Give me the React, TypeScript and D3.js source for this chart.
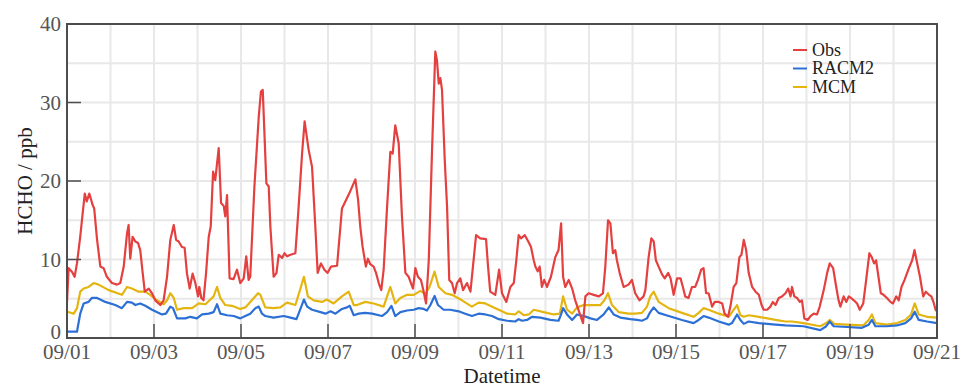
import React from "react";
import * as d3 from "d3";

// Hourly HCHO series, [hours since 09/01 00:00, ppb]
const obsSeries: [number, number][] = [
  [0,4.5],[0.9,8.9],[2.8,8.4],[4.2,7.8],[5.5,9.5],[7.3,12.9],[9.8,18.4],[10.9,17.4],[12.3,18.4],[14.2,16.9],[15,16.5],[16.6,12.5],[18.4,9.1],[20.2,8.9],[22,7.8],[24.8,7.0],[27.6,6.8],[29.4,7.0],[31.3,9.1],[33.1,13.3],[34,14.4],[34.9,10.1],[36.2,12.9],[37.7,12.3],[39.2,12.1],[40.4,11.2],[41.8,8.2],[42.9,5.9],[45.1,6.3],[46.9,5.7],[48.7,4.8],[51.5,4.2],[53.3,4.8],[55.2,7.8],[57,12.5],[58.9,14.4],[60.2,12.5],[61.6,12.3],[63.4,11.6],[64.9,11.5],[66.2,8.2],[67.7,6.3],[69.3,8.2],[70.8,7.0],[72.3,5.3],[73,6.5],[74.1,5.1],[75.3,4.8],[76.7,8.2],[78.2,12.9],[79.3,14.2],[80.6,21.2],[81.8,20.1],[83.7,24.2],[85,17.2],[86.5,16.8],[87.3,15.5],[88.3,18.2],[89.7,7.6],[91.9,7.5],[93.8,8.7],[95.6,7.0],[97.5,7.6],[98.9,10.4],[100.2,7.4],[101.1,7.8],[103.4,19.3],[105.8,28.2],[107,31.4],[108,31.6],[110,19.7],[111.3,19.3],[112.2,14.2],[114,7.8],[115.6,8.3],[116.8,10.6],[118.7,10.2],[120,10.8],[121.4,10.4],[123.3,10.6],[126,10.8],[127.8,16.7],[129.7,23.5],[131.1,27.6],[133.3,24],[135.2,21.8],[137,14.2],[138.3,8.3],[140.1,9.5],[142,8.7],[143.8,8.3],[145.7,9.1],[149,9.2],[151.7,16.5],[155.5,18.3],[159.1,20.2],[160.6,17.6],[161.8,14.2],[163.1,11.6],[164.9,9.1],[166,10.1],[167.3,9.4],[169.2,9.1],[170.5,8.3],[172,7.0],[173.4,6.1],[174.7,8.7],[176.6,16.7],[178.4,23.7],[179.7,23.5],[181.1,27.1],[183,24.8],[184.8,15.5],[186.7,8.3],[188.5,7.8],[190.9,6.3],[192.2,8.9],[193.6,7.8],[195.3,7.4],[196.8,5.9],[198.1,4.4],[199.6,9.9],[201.4,23.9],[203.2,36.5],[204.1,35.4],[205.1,32.4],[206,33.1],[206.9,31.6],[208.4,22.7],[209.7,16.7],[210.9,7.4],[212.4,7.0],[213.9,5.7],[215.2,7.0],[217,7.6],[218.5,6.1],[220.7,7.0],[222.6,5.9],[223.8,8.7],[225.7,13.1],[228,12.7],[231.2,12.6],[232.3,9.1],[233.5,5.9],[236.3,5.5],[238.4,8.7],[240,5.7],[242.4,4.6],[244.6,6.5],[246.5,7.0],[247.9,9.9],[249.2,13.1],[250.5,12.7],[252.6,13.1],[254.5,12.3],[256,11.6],[257.5,9.9],[258.4,9.1],[259.7,8.5],[260.8,9.1],[262,6.5],[263.3,7.4],[264.8,6.5],[267,7.8],[269.4,10.3],[271.2,11.2],[272.6,14.6],[273.7,7.8],[274.9,6.5],[276.8,7.4],[278.7,6.3],[280.4,4.8],[282.9,3.1],[284.7,1.9],[286,5.3],[287.8,5.7],[290.6,5.5],[293.4,5.3],[295.7,5.7],[297,9.1],[298.5,15.0],[299.8,14.6],[301.2,10.8],[302.5,11.2],[303.4,9.9],[304.9,8.3],[307.1,6.5],[309.8,6.8],[311.7,7.4],[313.5,5.7],[315.9,4.8],[318.1,5.3],[319.1,6.1],[320.9,10.3],[322.4,12.7],[323.7,12.3],[324.9,9.9],[326.4,9.1],[328.3,8.1],[329.8,7.6],[331.7,8.3],[333,7.6],[334.7,5.5],[336.6,7.6],[338.5,7.6],[339.8,6.5],[341.1,5.3],[342.9,5.1],[344.8,6.5],[346.6,6.5],[348.1,7.4],[349.9,8.7],[351.2,8.9],[352.6,5.7],[354,5.7],[355.9,4.0],[357.4,4.6],[359.6,4.6],[361.5,4.4],[362.8,3.1],[364.7,2.7],[366,4.0],[367.8,6.5],[369.3,7.0],[371,10.3],[372.1,10.6],[373.4,12.5],[374.7,11.2],[376.1,8.3],[378,6.5],[379.9,5.9],[381.7,5.5],[383.2,4.2],[384.4,3.6],[386.3,3.6],[388.1,4.0],[389.4,4.6],[390.9,4.2],[392.7,5.1],[394.5,5.3],[396.4,5.7],[397.9,6.3],[399.2,5.3],[400,6.5],[401.3,5.3],[402.8,5.1],[404.3,4.6],[405.5,4.8],[406.8,2.5],[408.7,2.3],[410.2,2.8],[412,3.1],[413.8,3.0],[415.3,4.0],[417.5,6.1],[419.4,8.3],[420.8,9.5],[422.7,8.9],[424.4,6.5],[425.7,4.8],[426.7,4.0],[428.5,5.3],[430,4.6],[431.3,5.3],[432.6,5.1],[434.1,4.8],[435.9,4.4],[437.4,3.6],[439.3,4.4],[440.7,7.0],[442.7,10.8],[444,10.3],[445.3,9.5],[446.4,9.9],[447.7,7.8],[449,5.7],[450.5,5.5],[452.4,5.1],[454.3,4.6],[455.7,4.4],[457.5,5.3],[458.9,4.8],[460.4,6.5],[462.1,7.4],[464.5,8.9],[466.3,9.9],[467.6,11.2],[469.1,9.5],[470.6,7.8],[472.4,5.3],[473.8,5.9],[475.6,5.5],[476.9,5.3],[478.3,4.4],[479.2,3.6],[480,3.4],
];

const racm2Series: [number, number][] = [
  [0,0.8],[5.5,0.8],[7.3,3.1],[9.2,4.4],[11.9,4.6],[13.7,5.1],[16.6,5.1],[21.1,4.6],[26.6,4.2],[30.3,3.8],[33.1,4.6],[35.8,4.5],[37.7,4.2],[40.4,4.4],[43.2,4.1],[46.9,3.6],[52.4,3.0],[54.6,3.1],[57,4.0],[58.5,3.8],[60.7,2.5],[65.3,2.5],[68,2.7],[71.7,2.5],[74.5,3.0],[78.2,3.1],[80.9,3.3],[82.8,4.3],[84.6,3.1],[88.3,2.9],[92,2.8],[95.6,2.5],[98.4,2.8],[101.1,3.1],[103.9,3.8],[105.8,4.0],[107.6,3.1],[109.4,2.8],[114,2.6],[119.6,2.8],[123.3,2.6],[126.6,2.4],[128.8,3.7],[130.7,4.9],[132.5,4.0],[135.2,3.6],[139.9,3.3],[142.6,3.1],[145.4,3.4],[148.1,3.1],[151.7,3.7],[154.5,3.9],[156,4.1],[158.2,2.9],[160.9,3.1],[164.6,3.2],[168.3,3.1],[173.8,2.8],[176.6,3.3],[179,4.1],[181.1,2.8],[183.9,3.3],[187.6,3.5],[191.3,3.6],[194,3.8],[196.8,3.7],[198.6,3.5],[200.5,4.2],[202.8,5.35],[204.7,4.2],[207.8,3.6],[211.4,3.6],[216.1,3.4],[219.7,3.1],[223.4,2.8],[227.1,3.1],[230.8,3.0],[234.5,2.8],[238.2,2.4],[242.8,2.2],[247.3,2.1],[249.2,2.4],[251.1,2.2],[253.8,2.3],[256.6,2.7],[261.2,2.6],[266.7,2.3],[271.2,2.2],[272.6,3.0],[273.7,3.8],[275.9,3.0],[278.7,2.3],[281.4,3.0],[285.1,2.8],[288.8,2.5],[292.4,2.3],[296.1,3.0],[298.9,3.9],[301.6,3.0],[305.3,2.6],[310.8,2.4],[314.5,2.3],[317.2,2.2],[320,2.5],[321.8,3.3],[323.7,3.9],[326.4,3.2],[332,2.8],[339.3,2.3],[345.7,1.9],[348.5,2.3],[351.2,2.8],[354,2.6],[359.6,2.1],[365.1,1.7],[366.9,1.9],[369.7,3.0],[371.5,2.3],[373.4,1.8],[376.1,2.1],[381.7,1.9],[390.9,1.7],[396.4,1.6],[406.4,1.5],[415.6,1.0],[418.9,1.5],[420.8,2.1],[423,1.5],[430.3,1.4],[438.6,1.3],[442.3,1.7],[444.1,2.3],[446,1.5],[452.4,1.5],[457.9,1.6],[462.5,1.9],[465.7,2.5],[467.7,3.35],[469.9,2.3],[474.5,2.1],[480,1.9],
];

const mcmSeries: [number, number][] = [
  [0,3.35],[3.7,3.1],[5.5,3.8],[7.3,5.9],[9.2,6.3],[11.9,6.5],[14.7,7.0],[17.4,6.8],[23,6.1],[30.3,5.5],[33.1,6.5],[35.8,6.3],[39.5,5.9],[43.2,5.9],[45.9,5.5],[49.6,4.8],[53.3,4.3],[55.2,4.8],[57,5.7],[58.9,5.1],[60.7,3.6],[64.4,3.8],[69,3.8],[72.7,4.4],[76.4,4.3],[79.1,4.9],[80.9,5.3],[82.8,6.5],[84.6,5.1],[87.3,4.2],[91,4.1],[95.6,3.7],[98.4,3.9],[102,4.8],[105.4,5.7],[106.7,5.5],[109.4,3.9],[114,3.8],[117.7,3.9],[121.4,4.5],[126,4.2],[128.8,6.3],[130.7,7.8],[132.9,5.3],[136.1,4.8],[140.7,4.6],[143.4,4.9],[147.1,4.4],[151.7,5.3],[155.4,5.9],[158.2,4.2],[160,4.2],[164.6,4.6],[169.2,4.4],[174.7,4.0],[176.6,5.3],[178.4,6.5],[181.1,4.4],[183.9,5.1],[187.6,5.5],[191.3,5.5],[195,6.0],[197.7,5.6],[200,6.5],[202.8,8.45],[205.1,6.5],[208.8,5.7],[212.4,5.5],[217.9,4.8],[223.4,4.0],[227.1,4.5],[230.8,4.4],[235.4,3.9],[240,3.4],[242.8,3.1],[247.3,3.0],[249.2,3.4],[252,2.9],[254.8,3.0],[257.5,3.6],[263,3.3],[268.6,3.0],[271.9,3.1],[273.7,5.3],[275.9,3.6],[278.7,3.1],[281.4,3.9],[285.1,4.2],[289.7,4.2],[294.3,4.2],[296.5,4.8],[298.5,5.7],[300.7,4.2],[304.4,3.3],[309.8,3.1],[313.5,3.1],[317.2,3.2],[320,4.0],[321.8,5.3],[323.7,5.9],[326.4,4.6],[332,3.8],[339.3,3.2],[345.7,2.7],[348.5,3.2],[351.2,3.8],[354,3.6],[359.6,3.1],[365.1,2.7],[366.9,3.3],[369.7,4.2],[371.5,2.9],[373.4,2.7],[376.1,2.9],[381.7,2.7],[390.9,2.3],[396.4,2.1],[400,2.1],[406.4,1.9],[415.6,1.5],[418.9,1.9],[420.8,2.3],[423.3,1.8],[430.3,1.7],[439.3,1.6],[442.3,2.3],[444.1,3.0],[446,1.9],[452.4,1.7],[457.9,1.9],[462.5,2.3],[465.7,3.0],[467.7,4.4],[469.9,3.0],[474.5,2.7],[480,2.6],
];

const seriesNames = ["Obs", "RACM2", "MCM"];
const seriesColors = ["#e4403f", "#2c6fd5", "#e4b511"];
const xTickLabels = ["09/01", "09/03", "09/05", "09/07", "09/09", "09/11", "09/13", "09/15", "09/17", "09/19", "09/21"];
const yTicks = [0, 10, 20, 30, 40];

const W = 963;
const H = 388;
const M = { left: 67, right: 26, top: 24, bottom: 50 };
const FONT = "'Liberation Serif', 'Times New Roman', serif";

export default function App() {
  const x = d3.scaleLinear().domain([0, 480]).range([M.left, W - M.right]);
  const y = d3.scaleLinear().domain([0, 40]).range([H - M.bottom, M.top]);
  const line = d3
    .line<[number, number]>()
    .x((d) => x(d[0]))
    .y((d) => y(d[1]));

  const dayGrid = d3.range(0, 481, 24);
  const yGrid = d3.range(0, 41, 5);
  const x0 = x(0), x1 = x(480), y0 = y(0), y1 = y(40);
  const series = [obsSeries, racm2Series, mcmSeries];
  const drawOrder = [2, 1, 0];

  return (
    <svg width={W} height={H} style={{ position: "absolute", left: 0, top: 0, background: "#fff" }} fontFamily={FONT}>
      <defs>
        <clipPath id="plot-clip">
          <rect x={x0} y={y1} width={x1 - x0} height={y0 - y1} />
        </clipPath>
      </defs>
      <rect x={0} y={0} width={W} height={H} fill="#fff" />
      {/* grid */}
      {dayGrid.map((h) => (
        <line key={"gx" + h} x1={x(h)} x2={x(h)} y1={y1} y2={y0} stroke="#e8e8e8" strokeWidth={2} />
      ))}
      {yGrid.map((v) => (
        <line key={"gy" + v} x1={x0} x2={x1} y1={y(v)} y2={y(v)} stroke="#e8e8e8" strokeWidth={2} />
      ))}
      {/* series */}
      <g clipPath="url(#plot-clip)">
        {drawOrder.map((i) => (
          <path key={seriesNames[i]} d={line(series[i]) || ""} fill="none" stroke={seriesColors[i]} strokeWidth={2.2} strokeLinejoin="round" />
        ))}
      </g>
      {/* frame */}
      <rect x={x0} y={y1} width={x1 - x0} height={y0 - y1} fill="none" stroke="#4d4d4d" strokeWidth={2} />
      {/* ticks */}
      {xTickLabels.map((lab, i) => {
        const px = x(i * 48);
        return (
          <g key={lab}>
            <line x1={px} x2={px} y1={y0} y2={y0 - 14} stroke="#4d4d4d" strokeWidth={1.5} />
            <text x={px} y={y0 + 21} textAnchor="middle" fontSize={21} fill="#555">{lab}</text>
          </g>
        );
      })}
      {yTicks.map((v) => (
        <g key={"yt" + v}>
          <line x1={x0} x2={x0 + 14} y1={y(v)} y2={y(v)} stroke="#4d4d4d" strokeWidth={1.5} />
          <text x={x0 - 6} y={y(v) - (v === 0 ? 6 : 0)} dy="0.35em" textAnchor="end" fontSize={21} fill="#555">{v}</text>
        </g>
      ))}
      {/* axis titles */}
      <text x={(x0 + x1) / 2} y={H - 5} textAnchor="middle" fontSize={21} fill="#222">Datetime</text>
      <text transform={`translate(32, ${(y0 + y1) / 2}) rotate(-90)`} textAnchor="middle" fontSize={21} fill="#222">HCHO / ppb</text>
      {/* legend */}
      {seriesNames.map((name, i) => {
        const ly = 50 + i * 18.5;
        return (
          <g key={"lg" + name}>
            <line x1={793} x2={807} y1={ly} y2={ly} stroke={seriesColors[i]} strokeWidth={2} />
            <text x={812} y={ly} dy="0.33em" fontSize={18} fill="#222">{name}</text>
          </g>
        );
      })}
    </svg>
  );
}
